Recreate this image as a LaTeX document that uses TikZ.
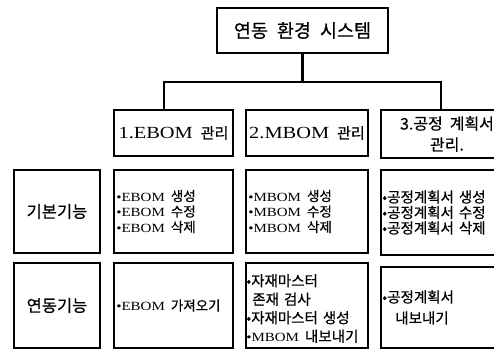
\documentclass[tikz,border=0pt]{standalone}
\usepackage{fontspec}
\setmainfont{Liberation Serif}[FakeStretch=1.2]
\newfontfamily\kr{Noto Sans CJK KR}[FakeBold=0.6]
\newcommand{\ko}[1]{{\kr\fontsize{13.5}{15.5}\selectfont #1}}
\begin{document}
\begin{tikzpicture}[x=1pt,y=-1pt,
  box/.style={draw, line width=1.8pt, inner sep=0pt},
  link/.style={line width=2.2pt},
  txt/.style={inner sep=0pt, align=left, anchor=west, font=\fontsize{12.5}{15.5}\selectfont},
  hdr/.style={inner sep=0pt, align=center, font=\fontsize{17}{19}\selectfont},
  side/.style={inner sep=0pt, font=\kr\fontsize{16.5}{18}\selectfont}]
\useasboundingbox (0,0) rectangle (494,351);
\clip (0,0) rectangle (494,351);
% title
\node[box, minimum width=171pt, minimum height=45pt] (title) at (302.5,30.5) {};
\node[inner sep=0pt, font=\kr\fontsize{18.5}{20}\selectfont] (titletxt) at (title.center) {연동\hspace{9pt}환경\hspace{9pt}시스템};
% headers
\node[box, minimum width=119pt, minimum height=46pt] (h1) at (173.5,133) {};
\node[box, minimum width=122pt, minimum height=46pt] (h2) at (307,133) {};
\node[box, minimum width=124pt, minimum height=48pt] (h3) at (443,134) {};
\node[hdr] (h1t) at (h1.center) {1.EBOM\hspace{8pt}{\kr\fontsize{15}{19}\selectfont 관리}};
\node[hdr] (h2t) at (h2.center) {2.MBOM\hspace{8pt}{\kr\fontsize{15}{19}\selectfont 관리}};
\node[hdr, font=\kr\fontsize{16}{21}\selectfont] (h3t) at ([xshift=4pt]h3.center) {3.공정\hspace{7pt}계획서\\관리.};
% row 2
\node[box, minimum width=86pt, minimum height=83pt] (l2) at (57,211.5) {};
\node[box, minimum width=119pt, minimum height=83pt] (c12) at (173.5,211.5) {};
\node[box, minimum width=122pt, minimum height=83pt] (c22) at (307,211.5) {};
\node[box, minimum width=124pt, minimum height=85pt] (c32) at (443,212.5) {};
\node[side] (l2t) at (l2.center) {기본기능};
\node[txt] (c12t) at ([xshift=3pt]c12.west) {\textbullet EBOM\hspace{6pt}\ko{생성}\\\textbullet EBOM\hspace{6pt}\ko{수정}\\\textbullet EBOM\hspace{6pt}\ko{삭제}};
\node[txt] (c22t) at ([xshift=3pt]c22.west) {\textbullet MBOM\hspace{6pt}\ko{생성}\\\textbullet MBOM\hspace{6pt}\ko{수정}\\\textbullet MBOM\hspace{6pt}\ko{삭제}};
\node[txt, font=\kr\fontsize{14.5}{15.5}\selectfont] (c32t) at ([xshift=2pt]c32.west) {•공정계획서\hspace{5pt}생성\\•공정계획서\hspace{5pt}수정\\•공정계획서\hspace{5pt}삭제};
% row 3
\node[box, minimum width=86pt, minimum height=85pt] (l3) at (57,305.5) {};
\node[box, minimum width=119pt, minimum height=85pt] (c13) at (173.5,305.5) {};
\node[box, minimum width=122pt, minimum height=85pt] (c23) at (307,305.5) {};
\node[box, minimum width=124pt, minimum height=81pt] (c33) at (443,307.5) {};
\node[side] (l3t) at (l3.center) {연동기능};
\node[txt] (c13t) at ([xshift=3pt]c13.west) {\textbullet EBOM\hspace{6pt}\ko{가져오기}};
\node[txt, font=\kr\fontsize{14.5}{18.5}\selectfont] (c23t) at ([xshift=1pt,yshift=-3pt]c23.west) {•자재마스터\\\hspace{6pt}존재\hspace{5pt}검사\\•자재마스터\hspace{5pt}생성\\{\rmfamily\fontsize{12.5}{18.5}\selectfont\textbullet MBOM}\hspace{6pt}내보내기};
\node[txt, font=\kr\fontsize{14.5}{21}\selectfont] (c33t) at ([xshift=2pt]c33.west) {•공정계획서\\\hspace{13pt}내보내기};
% connectors
\coordinate (bl) at (164,82);
\coordinate (br) at (441,82);
\draw[link] (title.south) -- (title.south |- bl);
\draw[link] (h1.north -| bl) -- (bl) -- (br) -- (h3.north -| br);
\end{tikzpicture}
\end{document}
